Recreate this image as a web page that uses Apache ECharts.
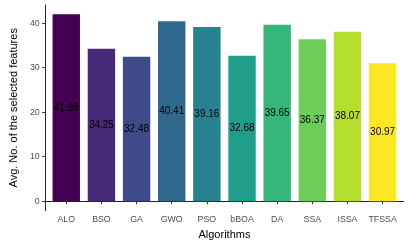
<!DOCTYPE html>
<html>
<head>
<meta charset="utf-8">
<script src="https://cdn.jsdelivr.net/npm/echarts@6/dist/echarts.min.js"></script>
<style>
html,body{margin:0;padding:0;background:#fff;}
#chart{width:409px;height:245px;}
</style>
</head>
<body>
<div id="chart"></div>
<script>
const categories = ['ALO','BSO','GA','GWO','PSO','bBOA','DA','SSA','ISSA','TFSSA'];
const values = [41.98, 34.25, 32.48, 40.41, 39.16, 32.68, 39.65, 36.37, 38.07, 30.97];
const barColors = ['#440154','#482878','#3E4A89','#31688E','#26828E','#1F9E89','#35B779','#6DCD59','#B4DE2C','#FDE725'];
const yTicks = [0, 10, 20, 30, 40];
const xPositions = categories.map((c, i) => i + 1);

const chart = echarts.init(document.getElementById('chart'), null, {renderer: 'canvas'});
const font = 'Liberation Sans, Arial, sans-serif';
chart.setOption({
  animation: false,
  backgroundColor: '#ffffff',
  grid: {left: 32.7, right: 5.3, top: 5, bottom: 31.3, containLabel: false},
  xAxis: {
    type: 'value',
    min: 0.4, max: 10.6,
    name: 'Algorithms',
    nameLocation: 'middle',
    nameGap: 14,
    nameTextStyle: {fontFamily: font, fontSize: 11, color: '#000', verticalAlign: 'top'},
    splitLine: {show: false},
    axisLine: {show: true, lineStyle: {color: '#222', width: 1}},
    axisTick: {show: true, customValues: xPositions, length: 3, lineStyle: {color: '#333', width: 1}},
    axisLabel: {
      customValues: xPositions,
      margin: 4.5,
      fontFamily: font, fontSize: 8.8, color: '#4D4D4D',
      formatter: v => categories[Math.round(v) - 1] || ''
    }
  },
  yAxis: {
    type: 'value',
    min: -2.099, max: 44.079,
    name: 'Avg. No. of the selected features',
    nameLocation: 'middle',
    nameGap: 17,
    nameRotate: 90,
    nameTextStyle: {fontFamily: font, fontSize: 11, color: '#000'},
    splitLine: {show: false},
    axisLine: {show: true, lineStyle: {color: '#222', width: 1}},
    axisTick: {show: true, customValues: yTicks, length: 3, lineStyle: {color: '#333', width: 1}},
    axisLabel: {customValues: yTicks, margin: 5.5, fontFamily: font, fontSize: 8.8, color: '#4D4D4D'}
  },
  series: [{
    type: 'bar',
    barWidth: 27.4,
    data: values.map((v, i) => ({value: [xPositions[i], v], itemStyle: {color: barColors[i]}})),
    label: {
      show: true,
      position: 'inside',
      fontFamily: font, fontSize: 10, color: '#000',
      formatter: p => p.value[1].toFixed(2)
    }
  }]
});
</script>
</body>
</html>
